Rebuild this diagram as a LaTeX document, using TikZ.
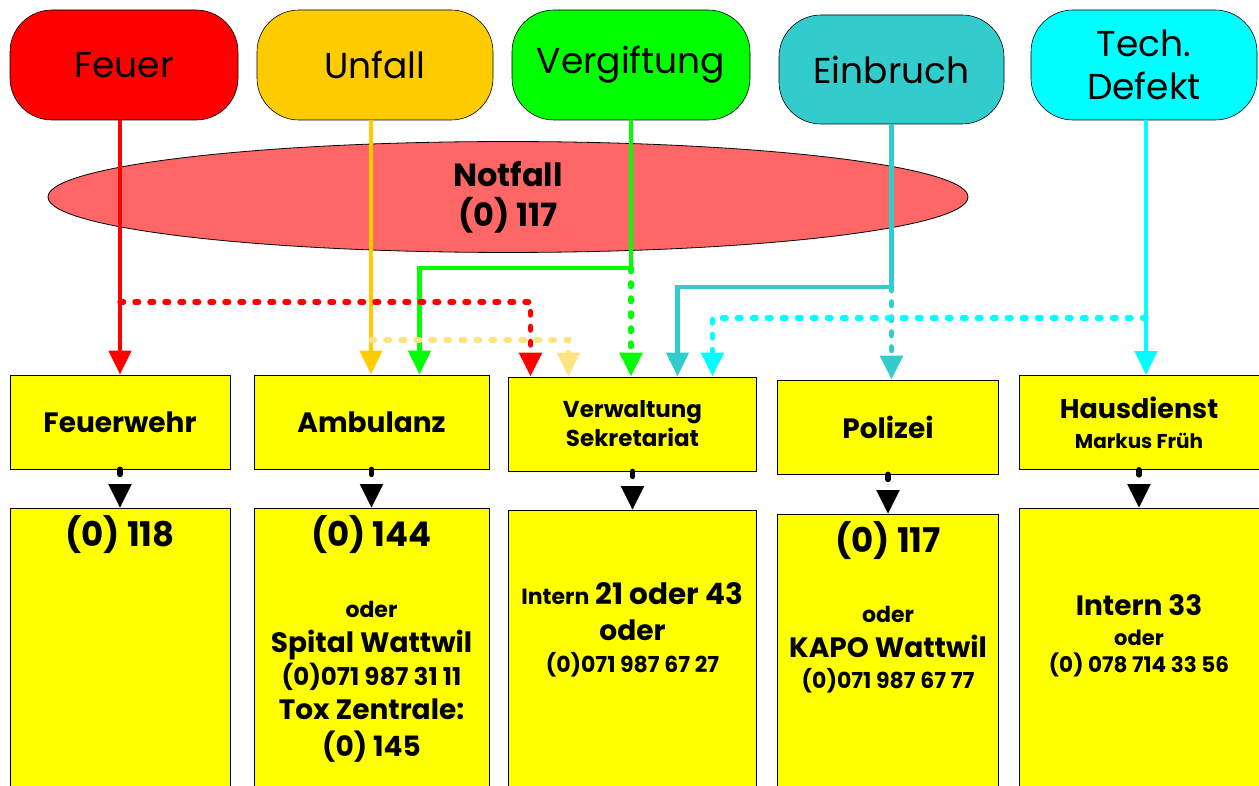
\documentclass[tikz,border=0pt]{standalone}
\usepackage{fontspec}
\setmainfont{Poppins}
\usetikzlibrary{shapes.geometric, arrows.meta}
\definecolor{fire}{HTML}{FF0000}
\definecolor{accident}{HTML}{FFCC00}
\definecolor{accidentpale}{HTML}{FFE380}
\definecolor{poison}{HTML}{00FF00}
\definecolor{burglary}{HTML}{33CCCC}
\definecolor{defect}{HTML}{00FFFF}
\definecolor{alarm}{HTML}{FF6666}
\definecolor{sheetyellow}{HTML}{FFFF00}
\newcommand{\fsz}[1]{\fontsize{#1}{#1}\selectfont}

\begin{document}
\begin{tikzpicture}[x=1pt, y=-1pt, cause/.style={draw, rounded corners=42pt, minimum height=110pt, align=center, line width=0.6pt, font=\fontsize{36}{43}\selectfont}, unit/.style={draw, fill=sheetyellow, minimum height=94pt, align=center, line width=0.8pt, font=\bfseries\fsz{28}}, sheet/.style={draw, fill=sheetyellow, anchor=north, minimum height=300pt, line width=0.8pt}, txt/.style={anchor=base, inner sep=0pt, font=\bfseries}, n/.style={-{Triangle[length=24pt, width=22pt]}, line width=4.5pt}, d/.style={n, line cap=round, line width=5.5pt, dash pattern=on 3.5pt off 11.5pt}, b/.style={n, black, line width=5.5pt, line cap=round, dash pattern=on 5pt off 14pt}]
            \useasboundingbox (0,0) rectangle (1259,786);
            % causes
            \node[cause, fill=fire, minimum width=228pt] (feuer) at (124,65) {Feuer};
            \node[cause, fill=accident, minimum width=236pt] (unfall) at (375,65) {Unfall};
            \node[cause, fill=poison, minimum width=238pt] (vergiftung) at (631,65) {Vergiftung};
            \node[cause, fill=burglary, minimum width=225pt, minimum height=109pt] (einbruch) at (891.5,69.5) {Einbruch};
            \node[cause, fill=defect, minimum width=226pt] (technik) at (1144,65) {Tech.\\Defekt};
            \node[draw, ellipse, fill=alarm, minimum width=920pt, minimum height=98pt, line width=0.8pt, align=center, font=\bfseries\fontsize{32}{40}\selectfont] (notfall) at (508,197) {Notfall\\(0) 117};
            % units
            \node[unit, minimum width=220pt] (feuerwehr) at (120,422) {Feuerwehr};
            \node[unit, minimum width=235pt] (ambulanz) at (371.5,422) {Ambulanz};
            \node[unit, minimum width=248pt, font=\bfseries\fontsize{23}{29}\selectfont] (verwaltung) at (632.5,424) {Verwaltung\\Sekretariat};
            \node[unit, minimum width=221pt] (polizei) at (888,427) {Polizei};
            \node[unit, minimum width=240pt, font=\bfseries\fontsize{27}{30}\selectfont] (hausdienst) at (1139,422.5) {Hausdienst\\{\fsz{20}Markus Früh}};
            % numbers
            \node[sheet, minimum width=220pt] (nr118) at (120,508) {};
            \node[sheet, minimum width=235pt] (nr144) at (371.5,508) {};
            \node[sheet, minimum width=248pt] (nrintern) at (632.5,510) {};
            \node[sheet, minimum width=221pt] (nr117) at (888,514) {};
            \node[sheet, minimum width=240pt] (nr33) at (1139,508) {};
            \node[txt, font=\bfseries\fsz{34}] (t118) at (120,546) {(0) 118};
            \node[txt, font=\bfseries\fsz{34}] (t144) at (371.5,546) {(0) 144};
            \node[txt, font=\bfseries\fsz{22}] (t144a) at (371.5,617) {oder};
            \node[txt, font=\bfseries\fsz{28}] (t144b) at (371.5,652) {Spital Wattwil};
            \node[txt, font=\bfseries\fsz{24.5}] (t144c) at (371.5,685) {(0)071 987 31 11};
            \node[txt, font=\bfseries\fsz{28}] (t144d) at (371.5,719) {Tox Zentrale:};
            \node[txt, font=\bfseries\fsz{28}] (t145) at (371.5,756) {(0) 145};
            \node[txt, font=\bfseries\fsz{29.5}] (tint) at (632.5,604) {{\fsz{22}Intern} 21 oder 43};
            \node[txt, font=\bfseries\fsz{28}] (tinta) at (632.5,640) {oder};
            \node[txt, font=\bfseries\fsz{22}] (tintb) at (632.5,672) {(0)071 987 67 27};
            \node[txt, font=\bfseries\fsz{34}] (t117) at (888,552) {(0) 117};
            \node[txt, font=\bfseries\fsz{22}] (t117a) at (888,622) {oder};
            \node[txt, font=\bfseries\fsz{28}] (t117b) at (888,657) {KAPO Wattwil};
            \node[txt, font=\bfseries\fsz{22}] (t117c) at (888,688) {(0)071 987 67 77};
            \node[txt, font=\bfseries\fsz{28}] (t33) at (1139,615) {Intern 33};
            \node[txt, font=\bfseries\fsz{21}] (t33a) at (1139,645) {oder};
            \node[txt, font=\bfseries\fsz{21.5}] (t33b) at (1139,672) {(0) 078 714 33 56};
            % joints
            \coordinate (redjoin) at (120,302);
            \coordinate (orangejoin) at (371,340);
            \coordinate (greenjoin) at (631,268);
            \coordinate (tealjoin) at (891.5,287);
            \coordinate (cyanjoin) at (1146,318);
            % edges
            \draw [n, fire] (feuer.south -| feuerwehr.north) -- (feuerwehr.north);
            \draw [n, accident] (unfall.south -| orangejoin) -- (orangejoin |- ambulanz.north);
            \draw [n, poison] (vergiftung.south) -- (greenjoin) -| ([xshift=48pt]ambulanz.north);
            \draw [n, burglary] (einbruch.south) -- (tealjoin) -| ([xshift=45pt]verwaltung.north);
            \draw [n, defect] (technik.south -| cyanjoin) -- (cyanjoin |- hausdienst.north);
            \draw [d, fire] (redjoin) -| ([xshift=-102pt]verwaltung.north);
            \draw [d, accidentpale] (orangejoin) -| ([xshift=-64pt]verwaltung.north);
            \draw [d, poison] (greenjoin) -- (greenjoin |- verwaltung.north);
            \draw [d, burglary] (tealjoin) -- (tealjoin |- polizei.north);
            \draw [d, defect] (cyanjoin) -| ([xshift=80pt]verwaltung.north);
            \draw [b] (feuerwehr.south) -- (nr118.north);
            \draw [b] (ambulanz.south) -- (nr144.north);
            \draw [b] (verwaltung.south) -- (nrintern.north);
            \draw [b] (polizei.south) -- (nr117.north);
            \draw [b] (hausdienst.south) -- (nr33.north);
        \end{tikzpicture}
\end{document}
